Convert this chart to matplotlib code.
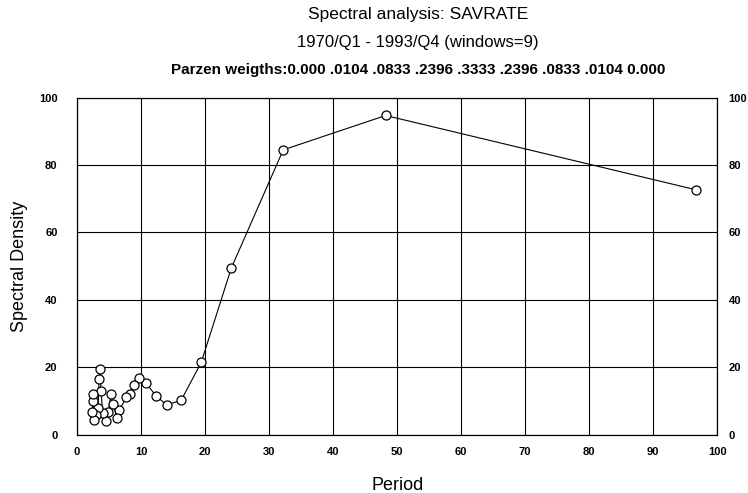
import matplotlib
matplotlib.use("Agg")
import matplotlib.pyplot as plt

# period (quarters) and spectral density (descending period)
period = [96.6, 48.2, 32.2, 24.1, 19.4, 16.25, 14.0, 12.3, 10.8, 9.7, 8.9, 8.3, 7.7,
          6.6, 6.3, 5.6, 5.3, 4.9, 4.6, 4.0, 3.75, 3.6, 3.44, 3.3, 2.9, 2.7, 2.55, 2.5, 2.4]
density = [72.7, 94.7, 84.5, 49.5, 21.5, 10.2, 8.9, 11.6, 15.3, 16.8, 14.8, 12.2, 11.1,
           7.4, 5.1, 9.1, 12.0, 6.9, 4.2, 6.4, 13.0, 19.5, 16.5, 7.9, 6.0, 4.5, 9.9, 12.0, 6.9]

xticks = list(range(0, 101, 10))
yticks = list(range(0, 101, 20))

plt.rcParams["font.family"] = ["Liberation Sans", "DejaVu Sans"]

fig = plt.figure(figsize=(7.48, 4.93), dpi=100)
ax = fig.add_axes([0.103, 0.118, 0.856, 0.684])

ax.plot(period, density, color="black", lw=0.8, marker="o", ms=6.5,
        mfc="white", mec="black", mew=0.9, zorder=3)

ax.set_xlim(0, 100); ax.set_ylim(0, 100)
ax.set_xticks(xticks); ax.set_yticks(yticks)
ax.grid(True, color="black", lw=0.8)
ax.tick_params(axis="y", length=0, labelsize=8, pad=14)
ax.tick_params(axis="x", length=0, labelsize=8, pad=9)
for lab in ax.get_xticklabels() + ax.get_yticklabels():
    lab.set_fontweight("bold")
for s in ax.spines.values():
    s.set_linewidth(0.8)

ax2 = ax.twinx()
ax2.set_ylim(0, 100); ax2.set_yticks(yticks)
ax2.tick_params(length=0, labelsize=8, pad=8)
for lab in ax2.get_yticklabels():
    lab.set_fontweight("bold")

ax.set_xlabel("Period", fontsize=13, labelpad=14)
ax.set_ylabel("Spectral Density", fontsize=13, labelpad=8)

fig.text(0.559, 0.971, "Spectral analysis: SAVRATE", ha="center", va="center", fontsize=12.5)
fig.text(0.559, 0.913, "1970/Q1 - 1993/Q4 (windows=9)", ha="center", va="center", fontsize=12)
fig.text(0.559, 0.858, "Parzen weigths:0.000 .0104 .0833 .2396 .3333 .2396 .0833 .0104 0.000",
         ha="center", va="center", fontsize=11, fontweight="bold")

fig.savefig("out.png", dpi=100)
